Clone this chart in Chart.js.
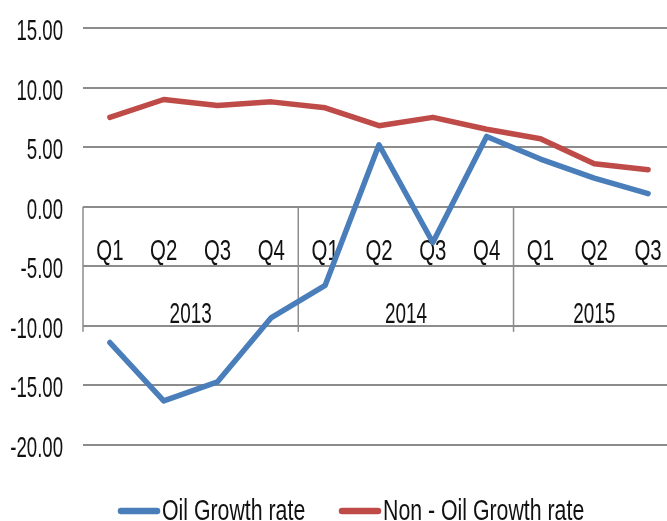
<!DOCTYPE html>
<html>
<head>
<meta charset="utf-8">
<script src="https://cdn.jsdelivr.net/npm/chart.js@4"></script>
<style>
  html, body { margin: 0; padding: 0; background: #fff; overflow: hidden; }
  #wrap { width: 680px; height: 521px; }
</style>
</head>
<body>
<div id="wrap"><canvas id="growthChart" width="680" height="521"></canvas></div>
<script>
// Categories
const quarters = ['Q1', 'Q2', 'Q3', 'Q4', 'Q1', 'Q2', 'Q3', 'Q4', 'Q1', 'Q2', 'Q3'];
const years = ['2013', '2014', '2015'];
const quartersPerYear = [4, 4, 3];

// Series values (%)
const oilGrowth = [-11.4, -16.3, -14.7, -9.3, -6.6, 5.2, -3.0, 5.9, 4.0, 2.4, 1.1];
const nonOilGrowth = [7.5, 9.0, 8.5, 8.8, 8.3, 6.8, 7.5, 6.5, 5.7, 3.6, 3.1];

// Y axis
const yMin = -20;
const yMax = 15;
const yStep = 5;

const FONT = '30px "Liberation Sans", Arial, sans-serif';
const GRID = '#8c8c8c';
const TEXT = '#111';

// the original uses a tall, narrow face - squeeze Liberation Sans to get close
function narrowText(ctx, text, x, y, align, sx) {
    ctx.save();
    ctx.translate(x, y);
    ctx.scale(sx, 1);
    ctx.font = FONT;
    ctx.fillStyle = TEXT;
    ctx.textAlign = align;
    ctx.textBaseline = 'alphabetic';
    ctx.fillText(text, 0, 0);
    ctx.restore();
}

// Y tick labels + two-level category axis (quarters / years) below zero
const axisText = {
    id: 'axisText',
    beforeDatasetsDraw(chart) {
        const ctx = chart.ctx;
        const x = chart.scales.x;
        const y = chart.scales.y;
        const y0 = y.getPixelForValue(0);
        const y1 = y.getPixelForValue(-5);
        const y2 = y.getPixelForValue(-10);

        y.ticks.forEach(t => {
            narrowText(ctx, t.value.toFixed(2), y.right - 20, y.getPixelForValue(t.value) + 12, 'right', 0.62);
        });

        ctx.save();
        ctx.strokeStyle = GRID;
        ctx.lineWidth = 1.5;
        let idx = 0;
        const seps = [chart.chartArea.left];
        quartersPerYear.forEach(n => {
            idx += n;
            if (idx < quarters.length) {
                seps.push((x.getPixelForValue(idx - 1) + x.getPixelForValue(idx)) / 2);
            }
        });
        seps.forEach(sx => {
            ctx.beginPath();
            ctx.moveTo(sx, y0);
            ctx.lineTo(sx, y2 + 6);
            ctx.stroke();
        });
        ctx.restore();

        quarters.forEach((q, i) => {
            narrowText(ctx, q, x.getPixelForValue(i), y1 - 6, 'center', 0.68);
        });

        idx = 0;
        years.forEach((yr, g) => {
            const first = idx;
            const last = idx + quartersPerYear[g] - 1;
            const cx = (x.getPixelForValue(first) + x.getPixelForValue(last)) / 2;
            narrowText(ctx, yr, cx, y2 - 3, 'center', 0.63);
            idx += quartersPerYear[g];
        });
    }
};

// Legend at the bottom, built from the datasets
const bottomLegend = {
    id: 'bottomLegend',
    afterDraw(chart) {
        const ctx = chart.ctx;
        const ly = 511;
        const starts = [118, 339];
        chart.data.datasets.forEach((ds, i) => {
            const sx = starts[i];
            ctx.save();
            ctx.strokeStyle = ds.borderColor;
            ctx.lineWidth = 6.5;
            ctx.lineCap = 'round';
            ctx.beginPath();
            ctx.moveTo(sx + 3, ly);
            ctx.lineTo(sx + 39, ly);
            ctx.stroke();
            ctx.restore();
            narrowText(ctx, ds.label, sx + 44, ly + 9, 'left', 0.71);
        });
    }
};

const ctx = document.getElementById('growthChart').getContext('2d');
const chart = new Chart(ctx, {
    type: 'line',
    data: {
        labels: quarters,
        datasets: [
            {
                label: 'Oil Growth rate',
                data: oilGrowth,
                borderColor: '#4a7ebb',
                borderWidth: 5.5,
                pointRadius: 0,
                tension: 0,
                borderCapStyle: 'round',
                borderJoinStyle: 'round',
                fill: false,
                order: 1
            },
            {
                label: 'Non - Oil Growth rate',
                data: nonOilGrowth,
                borderColor: '#be4b48',
                borderWidth: 5.5,
                pointRadius: 0,
                tension: 0,
                borderCapStyle: 'round',
                borderJoinStyle: 'round',
                fill: false,
                order: 0
            }
        ]
    },
    options: {
        responsive: false,
        animation: false,
        layout: {
            padding: { top: 28, right: 5, bottom: 76, left: 0 }
        },
        plugins: {
            legend: { display: false },
            tooltip: { enabled: false }
        },
        scales: {
            x: {
                type: 'category',
                display: false,
                offset: true
            },
            y: {
                min: yMin,
                max: yMax,
                afterFit: s => { s.width = 83; },
                border: { display: false },
                grid: {
                    color: GRID,
                    lineWidth: 2,
                    drawTicks: false
                },
                ticks: {
                    stepSize: yStep,
                    display: false
                }
            }
        }
    },
    plugins: [axisText, bottomLegend]
});
</script>
</body>
</html>
